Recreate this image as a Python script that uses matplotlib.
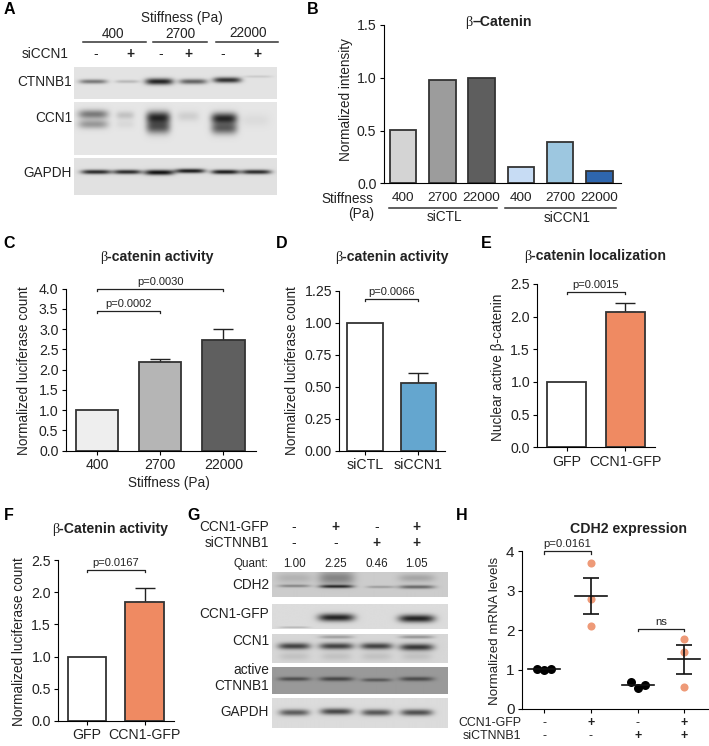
import numpy as np
import matplotlib
matplotlib.use('Agg')
import matplotlib.pyplot as plt

plt.rcParams['font.family'] = ['Liberation Sans', 'DejaVu Sans']
plt.rcParams['axes.linewidth'] = 0.8

W, H = 709, 746
EDGE = '#333333'
TXT = '#222222'

# panel B
b_stiff = ['400', '2700', '22000', '400', '2700', '22000']
b_vals = [0.505, 0.975, 1.0, 0.155, 0.395, 0.12]
b_cols = ['#d4d4d4', '#9c9c9c', '#5e5e5e', '#c7dcf4', '#9dc7e0', '#2e66ad']
# panel C
c_cats = ['400', '2700', '22000']
c_vals = [1.0, 2.19, 2.73]
c_errs = [0, 0.08, 0.27]
c_cols = ['#eeeeee', '#b5b5b5', '#5f5f5f']
# panel D
d_cats = ['siCTL', 'siCCN1']
d_vals = [1.0, 0.525]
d_errs = [0, 0.08]
d_cols = ['white', '#64a6cf']
# panel E
e_cats = ['GFP', 'CCN1-GFP']
e_vals = [1.0, 2.07]
e_errs = [0, 0.14]
e_cols = ['white', '#ef8a62']
# panel F
f_vals = [1.0, 1.85]
f_errs = [0, 0.21]
# panel H
h_gfp = ['-', '+', '-', '+']
h_si = ['-', '-', '+', '+']
h_points = [[1.01, 1.0, 1.01], [3.7, 2.8, 2.1], [0.69, 0.53, 0.6], [1.78, 1.44, 0.56]]
h_offsets = [[-0.15, 0, 0.15], [0, 0, 0], [-0.15, 0, 0.15], [0, 0, 0]]
h_means = [1.01, 2.87, 0.61, 1.26]
h_sem = [0.0, 0.46, 0.0, 0.36]
h_cols = ['black', '#ee9a78', 'black', '#ee9a78']

# blot bands: (x px, y px, half width, half height, darkness)
a_ctnnb1 = [(93, 82, 14, 2.2, .42), (127, 82, 12, 1.6, .17), (159, 82, 14, 3.2, .75),
            (193, 82, 14, 2.6, .5), (227, 80.5, 14, 2.8, .7), (258, 77, 14, 1.2, .1)]
a_ccn1 = [(93, 114, 15, 4.5, .42), (93, 124, 15, 4.5, .3), (125, 115, 9, 4, .14), (125, 124, 9, 4, .05),
          (158, 117, 12, 6, .7), (158, 127, 12, 6.5, .55), (188, 116, 11, 5, .09),
          (224, 118, 13, 5.5, .72), (224, 128, 13, 6, .52), (255, 120, 14, 6, .04)]
a_gapdh = [(96, 172, 15, 2.2, .72), (127, 172, 14, 2.2, .72), (159, 172.5, 15, 2.6, .82),
           (190, 171, 15, 2.2, .78), (225, 172, 14, 2.2, .78), (256, 172, 15, 2.2, .72)]
g_cdh2 = [(294, 578, 18, 5, .1), (336, 578, 18, 7, .28), (416, 578, 18, 4, .15),
          (294, 586, 16, 1.4, .28), (336, 586.5, 17, 1.6, .6), (380, 587, 14, 1.2, .2), (416, 587, 18, 1.8, .4)]
g_gfp = [(336, 618, 18, 3.8, .72), (416, 619, 18, 3.8, .72), (294, 627.5, 15, .6, .2)]
g_ccn1 = [(294, 646, 16, 3.2, .58), (336, 646, 17, 3.2, .58), (376, 646, 16, 3.2, .58), (416, 647, 17, 3.4, .62),
          (336, 637, 17, 1.6, .22), (416, 637, 17, 1.6, .26), (294, 656, 15, 4, .08), (336, 656, 15, 4, .08),
          (376, 656, 15, 4, .08), (416, 656, 15, 4, .08)]
g_active = [(294, 679, 16, 2, .3), (336, 679, 17, 2.2, .33), (376, 680, 15, 1.8, .26), (416, 679, 17, 2.2, .31)]
g_gapdh = [(294, 713, 15, 3.2, .5), (336, 712, 16, 3.2, .58), (376, 713, 15, 3.2, .52), (416, 713, 16, 3.2, .55)]

fig = plt.figure(figsize=(W / 100, H / 100), dpi=100)


def txt(x, y, s, size=9.8, ha='center', va='center', **kw):
    kw.setdefault('color', TXT)
    return fig.text(x / W, 1 - y / H, s, fontsize=size, ha=ha, va=va, **kw)


def hline(x0, x1, y, lw=1.1, color='#333333'):
    fig.add_artist(plt.Line2D([x0 / W, x1 / W], [1 - y / H, 1 - y / H], color=color, lw=lw))


def make_axes(left, right, top, bottom):
    ax = fig.add_axes([left / W, 1 - bottom / H, (right - left) / W, (bottom - top) / H])
    ax.patch.set_alpha(0)
    ax.spines['top'].set_visible(False)
    ax.spines['right'].set_visible(False)
    ax.tick_params(labelsize=10.2, length=3.2, width=0.8, labelcolor=TXT, pad=2)
    return ax


def bracket(ax, x0, x1, y, label, drop=0.012, size=8):
    ax.plot([x0, x0, x1, x1], [y - drop * ax.get_ylim()[1], y, y, y - drop * ax.get_ylim()[1]],
            color='#222222', lw=0.9, clip_on=False)
    ax.text((x0 + x1) / 2, y + 0.012 * ax.get_ylim()[1], label, fontsize=size, ha='center', va='bottom', color=TXT)


def bars(ax, vals, errs, cols, width):
    xs = np.arange(len(vals))
    ax.bar(xs, vals, width=width, color=cols, edgecolor=EDGE, linewidth=1.3, zorder=2)
    for x, v, e in zip(xs, vals, errs):
        if e > 0:
            ax.errorbar(x, v, yerr=[[0], [e]], color='#222222', capsize=7.5, elinewidth=1, capthick=1, zorder=1)


def beta_title(xc, y, rest, size=10.2):
    a = txt(0, y, '\u03b2', size=size, va='baseline', family=['Liberation Serif'])
    b = txt(0, y, rest, size=size, va='baseline', weight='bold')
    r = fig.canvas.get_renderer()
    wa = a.get_window_extent(r).width
    wb = b.get_window_extent(r).width
    x0 = xc - (wa + wb) / 2
    a.set_x(x0 / W)
    a.set_ha('left')
    b.set_x((x0 + wa) / W)
    b.set_ha('left')


def blot(x0, x1, y0, y1, bg, bands):
    ax = fig.add_axes([x0 / W, 1 - y1 / H, (x1 - x0) / W, (y1 - y0) / H])
    ax.axis('off')
    xx, yy = np.meshgrid(np.arange(x0, x1, 0.5), np.arange(y0, y1, 0.5))
    img = np.full(xx.shape, float(bg))
    for bx, by, hw, hh, dark in bands:
        img -= dark * np.exp(-((xx - bx) / hw) ** 4) * np.exp(-((yy - by) / hh) ** 2)
    ax.imshow(np.clip(img, 0, 1), cmap='gray', vmin=0, vmax=1, aspect='auto', interpolation='bilinear')


# panel letters
for s, x, y in [('A', 9, 9), ('B', 313, 9), ('C', 9, 243), ('D', 282, 243), ('E', 486, 243),
                ('F', 9, 516), ('G', 194, 516), ('H', 462, 516)]:
    txt(x, y, s, size=11.5, weight='bold', color='black')

# A: blot
blot(74, 277, 66.7, 99.3, .89, a_ctnnb1)
blot(74, 277, 102, 155, .90, a_ccn1)
blot(74, 277, 158.3, 195, .88, a_gapdh)
txt(182, 18, 'Stiffness (Pa)')
for x, y, s in [(113, 34, '400'), (180, 34, '2700'), (248, 33, '22000')]:
    txt(x, y, s)
hline(83, 146, 42)
hline(153, 207, 42)
hline(216, 278, 42)
txt(69, 54, 'siCCN1', ha='right')
for x, s in zip([96, 130, 161, 188, 223, 257], ['-', '+', '-', '+', '-', '+']):
    txt(x, 54, s, weight='bold' if s == '+' else 'normal')
txt(72, 82, 'CTNNB1', ha='right')
txt(72, 118, 'CCN1', ha='right')
txt(72, 173, 'GAPDH', ha='right')

# B
ax = make_axes(383.7, 620.7, 25, 183.3)
bars(ax, b_vals, [0] * 6, b_cols, 0.675)
ax.set_xlim(-0.49, 5.54)
ax.set_ylim(0, 1.5)
ax.set_yticks([0, 0.5, 1.0, 1.5])
ax.set_xticks(range(6))
ax.set_xticklabels(b_stiff)
ax.tick_params(axis='x', length=0, pad=6, labelsize=9.7)
txt(346, 100, 'Normalized intensity', rotation=90)
beta_title(499, 26, '\u2013Catenin')
txt(347, 199, 'Stiffness')
txt(361, 214, '(Pa)')
hline(388.7, 496.7, 207.7)
hline(505, 616, 207.7)
txt(444, 217, 'siCTL')
txt(567, 218, 'siCCN1')

# C
ax = make_axes(65.7, 255.7, 288.7, 450.7)
bars(ax, c_vals, c_errs, c_cols, 0.67)
ax.set_xlim(-0.495, 2.51)
ax.set_ylim(0, 4)
ax.set_yticks(np.arange(0, 4.5, 0.5))
ax.set_xticks(range(3))
ax.set_xticklabels(c_cats)
bracket(ax, 0, 2, 3.99, 'p=0.0030')
bracket(ax, 0, 1, 3.44, 'p=0.0002')
txt(24, 370.7, 'Normalized luciferase count', rotation=90)
txt(169, 483, 'Stiffness (Pa)')
beta_title(157, 261, '-catenin activity')

# D
ax = make_axes(339.3, 445.3, 290.7, 450.7)
bars(ax, d_vals, d_errs, d_cols, 0.66)
ax.set_xlim(-0.48, 1.507)
ax.set_ylim(0, 1.25)
ax.set_yticks([0, 0.25, 0.5, 0.75, 1.0, 1.25])
ax.set_yticklabels(['0.00', '0.25', '0.50', '0.75', '1.00', '1.25'])
ax.set_xticks(range(2))
ax.set_xticklabels(d_cats)
bracket(ax, 0, 1, 1.183, 'p=0.0066')
txt(292, 370.7, 'Normalized luciferase count', rotation=90)
beta_title(392, 261, '-catenin activity')

# E
ax = make_axes(537.3, 654.7, 284, 447.3)
bars(ax, e_vals, e_errs, e_cols, 0.668)
ax.set_xlim(-0.505, 1.505)
ax.set_ylim(0, 2.5)
ax.set_yticks(np.arange(0, 3, 0.5))
ax.set_xticks(range(2))
ax.set_xticklabels(e_cats)
bracket(ax, 0, 1, 2.38, 'p=0.0015')
txt(498, 367, 'Nuclear active \u03b2-catenin', rotation=90)
beta_title(595, 260, '-catenin localization')

# F
ax = make_axes(58.3, 174, 560, 721)
bars(ax, f_vals, f_errs, e_cols, 0.667)
ax.set_xlim(-0.497, 1.507)
ax.set_ylim(0, 2.5)
ax.set_yticks(np.arange(0, 3, 0.5))
ax.set_xticks(range(2))
ax.set_xticklabels(e_cats)
bracket(ax, 0, 1, 2.34, 'p=0.0167')
txt(19, 642, 'Normalized luciferase count', rotation=90)
beta_title(110, 533, '-Catenin activity')

# G: blot
blot(272, 447.3, 572.3, 597.3, .80, g_cdh2)
blot(272, 447.3, 604, 629.3, .86, g_gfp)
blot(272, 447.3, 634.3, 662.7, .84, g_ccn1)
blot(272, 447.3, 667.3, 694, .60, g_active)
blot(272, 447.3, 697.7, 728.3, .86, g_gapdh)
txt(269, 527, 'CCN1-GFP', ha='right')
txt(269, 543, 'siCTNNB1', ha='right')
lanes_g = [294, 335.7, 376.7, 416]
for x, s1, s2, q in zip(lanes_g, h_gfp, h_si, ['1.00', '2.25', '0.46', '1.05']):
    txt(x, 527, s1, weight='bold' if s1 == '+' else 'normal')
    txt(x, 543, s2, weight='bold' if s2 == '+' else 'normal')
    txt(x, 564, q, size=8.4)
txt(268, 564, 'Quant:', size=8.4, ha='right')
txt(269, 585, 'CDH2', ha='right')
txt(269, 614, 'CCN1-GFP', ha='right')
txt(269, 641, 'CCN1', ha='right')
txt(269, 670, 'active', ha='right')
txt(269, 686, 'CTNNB1', ha='right')
txt(269, 712, 'GAPDH', ha='right')

# H
ax = make_axes(521.7, 708.3, 551.3, 709)
ax.set_xlim(-0.484, 3.514)
ax.set_ylim(0, 4)
ax.set_yticks([0, 1, 2, 3, 4])
ax.set_yticklabels(['0', '1', '2', '3', '4'])
ax.tick_params(axis='y', labelsize=11)
ax.set_xticks(range(4))
ax.set_xticklabels([])
for i, (pts, offs, col) in enumerate(zip(h_points, h_offsets, h_cols)):
    ax.scatter([i + o for o in offs], pts, s=42 if col == 'black' else 34, color=col, linewidths=0, zorder=2)
    ax.plot([i - 0.345, i + 0.345], [h_means[i], h_means[i]], color='#111111', lw=1.2, zorder=3)
    if h_sem[i] > 0:
        ax.errorbar(i, h_means[i], yerr=h_sem[i], color='#111111', capsize=6, elinewidth=1.2, capthick=1.2, zorder=3)
    ax.text(i, -0.088, h_gfp[i], transform=ax.get_xaxis_transform(), fontsize=8.9, ha='center', va='center',
            color=TXT, weight='bold' if h_gfp[i] == '+' else 'normal')
    ax.text(i, -0.171, h_si[i], transform=ax.get_xaxis_transform(), fontsize=8.9, ha='center', va='center',
            color=TXT, weight='bold' if h_si[i] == '+' else 'normal')
bracket(ax, 0, 1, 4.0, 'p=0.0161', drop=0.016, size=8.2)
bracket(ax, 2, 3, 2.03, 'ns', drop=0.016, size=8.2)
txt(521.7, 723, 'CCN1-GFP', size=8.9, ha='right')
txt(521.7, 736, 'siCTNNB1', size=8.9, ha='right')
txt(495, 631, 'Normalized mRNA levels', rotation=90, size=9.6)
txt(629, 533, 'CDH2 expression', size=10.2, va='baseline', weight='bold')

fig.savefig('out.png', dpi=100)
